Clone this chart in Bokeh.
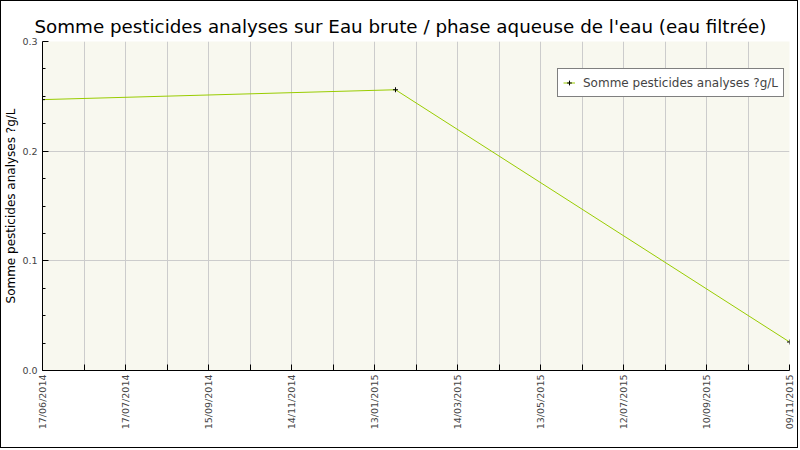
import numpy as np
import pandas as pd
from bokeh.plotting import figure
from bokeh.models import (FixedTicker, CustomJSTickFormatter, PrintfTickFormatter,
                          Legend, LegendItem, Range1d)
from bokeh.embed import file_html
from bokeh.resources import INLINE

# data
title_text = "Somme pesticides analyses sur Eau brute / phase aqueuse de l'eau (eau filtrée)"
series_name = "Somme pesticides analyses ?g/L"

dates = ["17/06/2014", "13/02/2015", "09/11/2015"]
values = [0.247, 0.256, 0.026]

tick_labels = ["17/06/2014", "17/07/2014", "15/09/2014", "14/11/2014", "13/01/2015",
               "14/03/2015", "13/05/2015", "12/07/2015", "10/09/2015", "09/11/2015"]
y_ticks = [0.0, 0.1, 0.2, 0.3]
y_minor = [0.025, 0.05, 0.075, 0.125, 0.15, 0.175, 0.225, 0.25, 0.275]

FONT = "DejaVu Sans"

# x as days since first sample
d = pd.to_datetime(dates, dayfirst=True)
x = [(t - d[0]).days for t in d]
span = x[-1]
n_steps = 2 * (len(tick_labels) - 1)
x_ticks = list(np.linspace(0, span, n_steps + 1))

p = figure(width=798, height=448, output_backend="svg", toolbar_location=None,
           x_range=Range1d(0, span), y_range=Range1d(0, 0.3),
           min_border_left=41, min_border_right=10, min_border_top=40, min_border_bottom=79)

p.title.text = title_text
p.title.text_font = FONT
p.title.text_font_size = "18.3px"
p.title.text_font_style = "normal"
p.title.text_color = "black"
p.title.align = "left"
p.title.offset = -8
p.title.standoff = 10

p.background_fill_color = "#f8f8ef"
p.border_fill_color = "white"
p.outline_line_color = None
p.styles = {"border": "1px solid black"}

line = p.line(x, values, line_color="#99cc00", line_width=1)
pts = p.scatter(x, values, marker="cross", size=5, line_color="black", line_width=1)

# x axis: evenly spaced ticks, every other one labelled
p.xaxis.ticker = FixedTicker(ticks=x_ticks)
p.xaxis.formatter = CustomJSTickFormatter(
    args=dict(labels=tick_labels, step=span / n_steps),
    code="const i = Math.round(tick / step); return (i % 2 == 0) ? labels[i / 2] : '';")
p.xaxis.major_label_orientation = np.pi / 2
p.xgrid.ticker = FixedTicker(ticks=x_ticks)

p.yaxis.ticker = FixedTicker(ticks=y_ticks, minor_ticks=y_minor)
p.yaxis.formatter = PrintfTickFormatter(format="%.1f")
p.yaxis.axis_label = series_name

for ax in (p.xaxis, p.yaxis):
    ax.axis_line_color = "black"
    ax.major_tick_line_color = "black"
    ax.minor_tick_line_color = "black"
    ax.major_tick_in = 6
    ax.major_tick_out = 0
    ax.minor_tick_in = 3
    ax.minor_tick_out = 0
    ax.major_label_text_font = FONT
    ax.major_label_text_font_size = "9.5px"
    ax.major_label_text_color = "#444444"

p.xaxis.major_label_standoff = 4
p.yaxis.major_label_standoff = 5

p.yaxis.axis_label_text_font = FONT
p.yaxis.axis_label_text_font_size = "12px"
p.yaxis.axis_label_text_font_style = "normal"
p.yaxis.axis_label_text_color = "black"
p.yaxis.axis_label_standoff = 1

p.xgrid.grid_line_color = "#cccccc"
p.ygrid.grid_line_color = "#cccccc"

legend = Legend(items=[LegendItem(label=series_name, renderers=[line, pts])],
                location=(515, 273))
legend.label_text_font = FONT
legend.label_text_font_size = "12px"
legend.border_line_color = "black"
legend.border_line_width = 1
legend.background_fill_color = "white"
legend.background_fill_alpha = 1
legend.padding = 5
legend.glyph_width = 12
legend.glyph_height = 17
legend.label_height = 17
legend.label_standoff = 8
p.add_layout(legend, "center")

open("out.html", "w").write(file_html(p, INLINE))
